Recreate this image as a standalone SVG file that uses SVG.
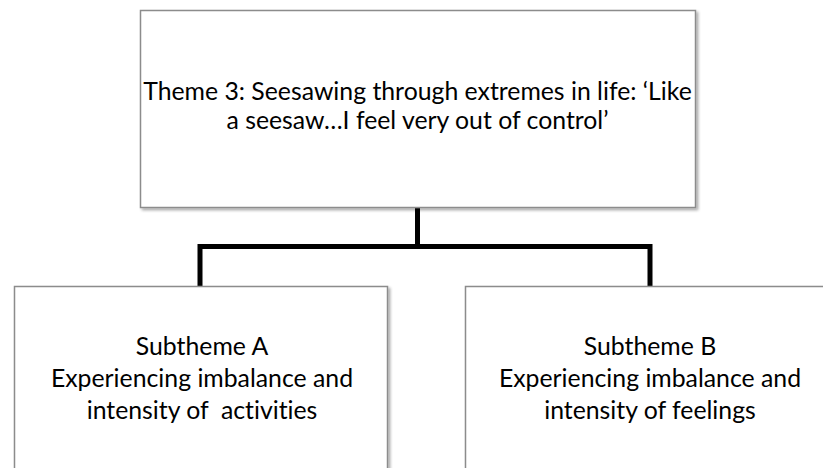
<svg xmlns="http://www.w3.org/2000/svg" width="823" height="468" viewBox="0 0 823 468">
<defs>
<filter id="sh" x="-5%" y="-5%" width="115%" height="115%">
<feGaussianBlur in="SourceAlpha" stdDeviation="1.5"/>
<feOffset dx="1.5" dy="1.5" result="b"/>
<feComponentTransfer><feFuncA type="linear" slope="0.35"/></feComponentTransfer>
<feMerge><feMergeNode/><feMergeNode in="SourceGraphic"/></feMerge>
</filter>
</defs>
<style>
.box{fill:#fff;stroke:#8c8c8c;stroke-width:1.5}
.t{font-family:Lato,"Liberation Sans",sans-serif;font-size:24.8px;fill:#000;text-anchor:middle;font-variant-ligatures:none;white-space:pre}
.c{fill:none;stroke:#000;stroke-width:5;stroke-linejoin:miter}
</style>
<rect width="823" height="468" fill="#fff"/>
<g id="connectors">
<path class="c" d="M417.5 208V246.5M200 287V246.5H650V287"/>
</g>
<g id="theme3">
<rect class="box" x="140.5" y="10.5" width="555" height="197" filter="url(#sh)"/>
<text class="t" x="417.5" y="100">Theme 3: Seesawing through extremes in life: ‘Like</text>
<text class="t" x="417.5" y="129">a seesaw…I feel very out of control’</text>
</g>
<g id="subthemeA">
<rect class="box" x="14.5" y="286.5" width="373" height="200" filter="url(#sh)"/>
<text class="t" x="202" y="355">Subtheme A</text>
<text class="t" x="202" y="387">Experiencing imbalance and</text>
<text class="t" x="202" y="419" xml:space="preserve">intensity of  activities</text>
</g>
<g id="subthemeB">
<rect class="box" x="465.5" y="286.5" width="370" height="200" filter="url(#sh)"/>
<text class="t" x="650" y="355">Subtheme B</text>
<text class="t" x="650" y="387">Experiencing imbalance and</text>
<text class="t" x="650" y="419">intensity of feelings</text>
</g>
</svg>
